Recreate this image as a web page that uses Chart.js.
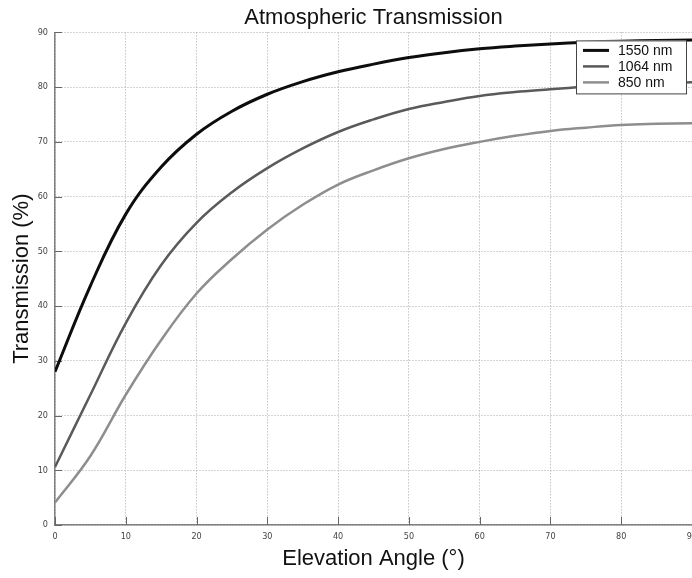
<!DOCTYPE html>
<html>
<head>
<meta charset="utf-8">
<script src="https://cdn.jsdelivr.net/npm/chart.js@4.4.1/dist/chart.umd.min.js"></script>
<style>
html, body { margin: 0; padding: 0; background: #fff; overflow: hidden; }
</style>
</head>
<body>
<canvas id="chart" width="692" height="578"></canvas>
<script>
// elevation angle (degrees)
const angles = [0, 5, 10, 15, 20, 25, 30, 35, 40, 45, 50, 55, 60, 65, 70, 75, 80, 85, 90];

// transmission (%)
const t1550 = [28, 43.7, 56.8, 65.4, 71.4, 75.6, 78.7, 81, 82.8, 84.2, 85.4, 86.3, 87, 87.5, 87.9, 88.2, 88.4, 88.5, 88.6];
const t1064 = [10.6, 23.8, 36.9, 47.5, 55.2, 60.8, 65.2, 68.8, 71.8, 74.1, 76, 77.3, 78.4, 79.1, 79.6, 80.1, 80.5, 80.7, 80.9];
const t850 = [4.1, 12.6, 23.8, 33.8, 42.3, 48.6, 54, 58.5, 62.2, 64.8, 67, 68.7, 70, 71.1, 72, 72.6, 73.1, 73.3, 73.4];

const seriesNames = ["1550 nm", "1064 nm", "850 nm"];
const seriesColors = ["#0d0d0d", "#5a5a5a", "#8e8e8e"];

function toPoints(values) {
    return angles.map((a, i) => ({ x: a, y: values[i] }));
}

// small tick marks drawn inside the axes
const innerTicks = {
    id: "innerTicks",
    beforeDatasetsDraw(chart) {
        const { ctx, chartArea, scales } = chart;
        ctx.save();
        ctx.strokeStyle = "#666";
        ctx.lineWidth = 1;
        ctx.beginPath();
        scales.x.ticks.forEach(t => {
            const px = Math.round(scales.x.getPixelForValue(t.value)) + 0.5;
            ctx.moveTo(px, chartArea.bottom);
            ctx.lineTo(px, chartArea.bottom - 8);
        });
        scales.y.ticks.forEach(t => {
            const py = Math.round(scales.y.getPixelForValue(t.value)) + 0.5;
            ctx.moveTo(chartArea.left, py);
            ctx.lineTo(chartArea.left + 7, py);
        });
        ctx.stroke();
        ctx.restore();
    }
};

// boxed legend in the upper right corner
const boxLegend = {
    id: "boxLegend",
    afterDraw(chart) {
        const { ctx, chartArea } = chart;
        const w = 110, h = 53;
        const x0 = chartArea.right - 116;
        const y0 = chartArea.top + 8;
        ctx.save();
        ctx.fillStyle = "#fff";
        ctx.fillRect(x0, y0, w, h);
        ctx.strokeStyle = "#444";
        ctx.lineWidth = 1;
        ctx.strokeRect(x0 + 0.5, y0 + 0.5, w, h);
        ctx.font = "14px 'Liberation Sans', Arial, sans-serif";
        ctx.textBaseline = "middle";
        chart.data.datasets.forEach((ds, i) => {
            const y = y0 + 10 + i * 16;
            ctx.strokeStyle = ds.borderColor;
            ctx.lineWidth = ds.borderWidth;
            ctx.beginPath();
            ctx.moveTo(x0 + 7, y);
            ctx.lineTo(x0 + 33, y);
            ctx.stroke();
            ctx.fillStyle = "#111";
            ctx.fillText(ds.label, x0 + 42, y + 1);
        });
        ctx.restore();
    }
};

const tickFont = { family: "'Liberation Sans Narrow', 'DejaVu Sans Condensed', sans-serif", size: 9 };
const titleFont = { family: "'Liberation Sans', Arial, sans-serif", size: 22, weight: "normal" };

new Chart(document.getElementById("chart"), {
    type: "line",
    data: {
        datasets: [
            { label: seriesNames[0], data: toPoints(t1550), borderColor: seriesColors[0], borderWidth: 3 },
            { label: seriesNames[1], data: toPoints(t1064), borderColor: seriesColors[1], borderWidth: 2.5 },
            { label: seriesNames[2], data: toPoints(t850), borderColor: seriesColors[2], borderWidth: 2.5 }
        ]
    },
    options: {
        responsive: false,
        animation: false,
        layout: { padding: 0 },
        elements: {
            point: { radius: 0 },
            line: { tension: 0.4, fill: false }
        },
        plugins: {
            legend: { display: false },
            tooltip: { enabled: false },
            title: {
                display: true,
                text: "Atmospheric Transmission",
                fullSize: false,
                color: "#111",
                font: titleFont,
                padding: { top: 5, bottom: 1 }
            }
        },
        scales: {
            x: {
                type: "linear",
                min: 0,
                max: 90,
                ticks: { stepSize: 10, color: "#444", font: tickFont, padding: 6, maxRotation: 0, autoSkip: false },
                grid: { color: "#a8a8a8", drawTicks: false },
                border: { color: "#808080", width: 1.5, dash: [1, 2] },
                title: { display: true, text: "Elevation Angle (°)", color: "#111", font: titleFont, padding: { top: 0, bottom: 6 } },
                afterFit(scale) {
                    scale.height = 53;
                    scale.paddingRight = 0;
                }
            },
            y: {
                min: 0,
                max: 90,
                ticks: { stepSize: 10, color: "#444", font: tickFont, padding: 7 },
                grid: { color: "#a8a8a8", drawTicks: false },
                border: { color: "#808080", width: 1.5, dash: [1, 2] },
                title: { display: true, text: "Transmission (%)", color: "#111", font: titleFont, padding: { top: 9, bottom: 0 } },
                afterFit(scale) {
                    scale.width = 55;
                }
            }
        }
    },
    plugins: [innerTicks, boxLegend]
});
</script>
</body>
</html>
